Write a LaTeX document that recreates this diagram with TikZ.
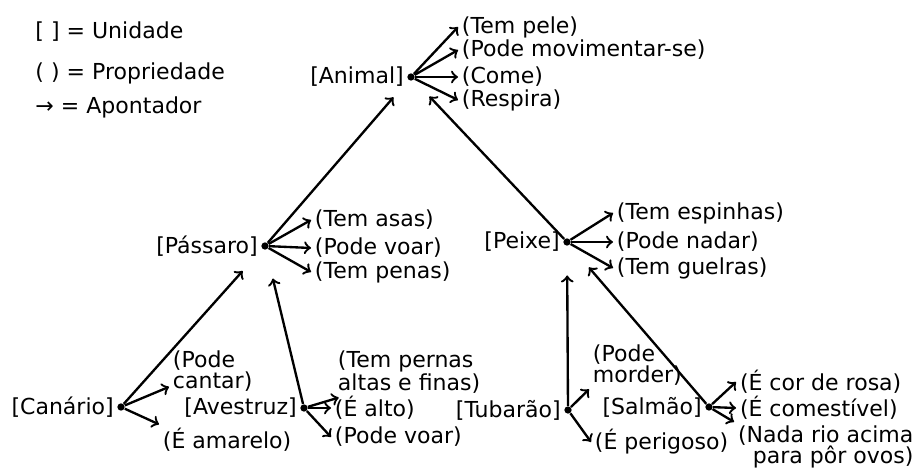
\documentclass[tikz,border=0pt]{standalone}
\usepackage{fontspec}
\setmainfont{DejaVu Sans}
\usetikzlibrary{positioning}

\begin{document}
\begin{tikzpicture}[x=0.015cm, y=-0.015cm, font=\fontsize{9.4}{8.9}\selectfont]
        \tikzstyle{unit} = [inner sep=0pt]
        \tikzstyle{prop} = [inner sep=1.5pt, anchor=west, align=left]
        \tikzstyle{legend} = [inner sep=0pt, anchor=west]
        \tikzstyle{dot} = [circle, fill=black, inner sep=0pt, minimum size=0.11cm]
        \tikzstyle{arrow} = [line width=1pt, ->, >=to]
        \tikzstyle{link} = [arrow, shorten >=0.44cm]

        \useasboundingbox (0,0) rectangle (918,472);

        % legenda
        \node (legunit) [legend] at (35,32) {[ ] = Unidade};
        \node (legprop) [legend] at (35,73) {( ) = Propriedade};
        \node (legptr) [legend] at (35,107) {→ = Apontador};

        % unidades
        \node (animaldot) [dot] at (411,77) {};
        \node (animal) [unit, left=0.4mm of animaldot] {[Animal]};
        \node (passarodot) [dot] at (265,246) {};
        \node (passaro) [unit, left=0.4mm of passarodot] {[Pássaro]};
        \node (peixedot) [dot] at (567,242) {};
        \node (peixe) [unit, left=0.4mm of peixedot] {[Peixe]};
        \node (canariodot) [dot] at (121,407) {};
        \node (canario) [unit, left=0.4mm of canariodot] {[Canário]};
        \node (avestruzdot) [dot] at (304,408) {};
        \node (avestruz) [unit, left=0.4mm of avestruzdot] {[Avestruz]};
        \node (tubaraodot) [dot] at (568,410) {};
        \node (tubarao) [unit, left=0.4mm of tubaraodot] {[Tubarão]};
        \node (salmaodot) [dot] at (709,407) {};
        \node (salmao) [unit, left=0.4mm of salmaodot] {[Salmão]};

        % propriedades
        \node (tempele) [prop] at (458,27) {(Tem pele)};
        \node (podemov) [prop] at (458,50) {(Pode movimentar-se)};
        \node (come) [prop] at (458,77) {(Come)};
        \node (respira) [prop] at (458,100) {(Respira)};

        \node (temasas) [prop] at (311,220) {(Tem asas)};
        \node (podevoar) [prop] at (311,248) {(Pode voar)};
        \node (tempenas) [prop] at (311,272) {(Tem penas)};

        \node (espinhas) [prop] at (613,213) {(Tem espinhas)};
        \node (nadar) [prop] at (613,242) {(Pode nadar)};
        \node (guelras) [prop] at (613,268) {(Tem guelras)};

        \node (cantar) [prop] at (169,371) {(Pode\\cantar)};
        \node (amarelo) [prop] at (159,440) {(É amarelo)};

        \node (pernas) [prop] at (334,372) {(Tem pernas\\altas e finas)};
        \node (alto) [prop] at (331,408) {(É alto)};
        \node (avvoar) [prop] at (331,437) {(Pode voar)};

        \node (morder) [prop] at (589,365) {(Pode\\morder)};
        \node (perigoso) [prop] at (591,442) {(É perigoso)};

        \node (rosa) [prop] at (736,382) {(É cor de rosa)};
        \node (comestivel) [prop] at (736,408) {(É comestível)};
        \node (rioacima) [prop, align=right] at (734,447) {(Nada rio acima\\para pôr ovos)};

        % apontadores
        \draw [arrow] (animaldot) -- (tempele.west);
        \draw [arrow] (animaldot) -- (podemov.west);
        \draw [arrow] (animaldot) -- (come.west);
        \draw [arrow] (animaldot) -- (respira.west);

        \draw [arrow] (passarodot) -- (temasas.west);
        \draw [arrow] (passarodot) -- (podevoar.west);
        \draw [arrow] (passarodot) -- (tempenas.west);

        \draw [arrow] (peixedot) -- (espinhas.west);
        \draw [arrow] (peixedot) -- (nadar.west);
        \draw [arrow] (peixedot) -- (guelras.west);

        \draw [arrow] (canariodot) -- (cantar.200);
        \draw [arrow] (canariodot) -- (amarelo.north west);

        \draw [arrow] (avestruzdot) -- (pernas.200);
        \draw [arrow] (avestruzdot) -- (alto.west);
        \draw [arrow] (avestruzdot) -- (avvoar.west);

        \draw [arrow] (tubaraodot) -- (morder.south west);
        \draw [arrow] (tubaraodot) -- (perigoso.west);

        \draw [arrow] (salmaodot) -- (rosa.west);
        \draw [arrow] (salmaodot) -- (comestivel.west);
        \draw [arrow] (salmaodot) -- (rioacima.north west);

        % ligacoes entre unidades
        \draw [link, shorten >=0.34cm] (passarodot) -- (animaldot);
        \draw [link, shorten >=0.34cm] (peixedot) -- (animaldot);
        \draw [link] (canariodot) -- (passarodot);
        \draw [link] (avestruzdot) -- (passarodot);
        \draw [link] (tubaraodot) -- (peixedot);
        \draw [link] (salmaodot) -- (peixedot);
    \end{tikzpicture}
\end{document}
